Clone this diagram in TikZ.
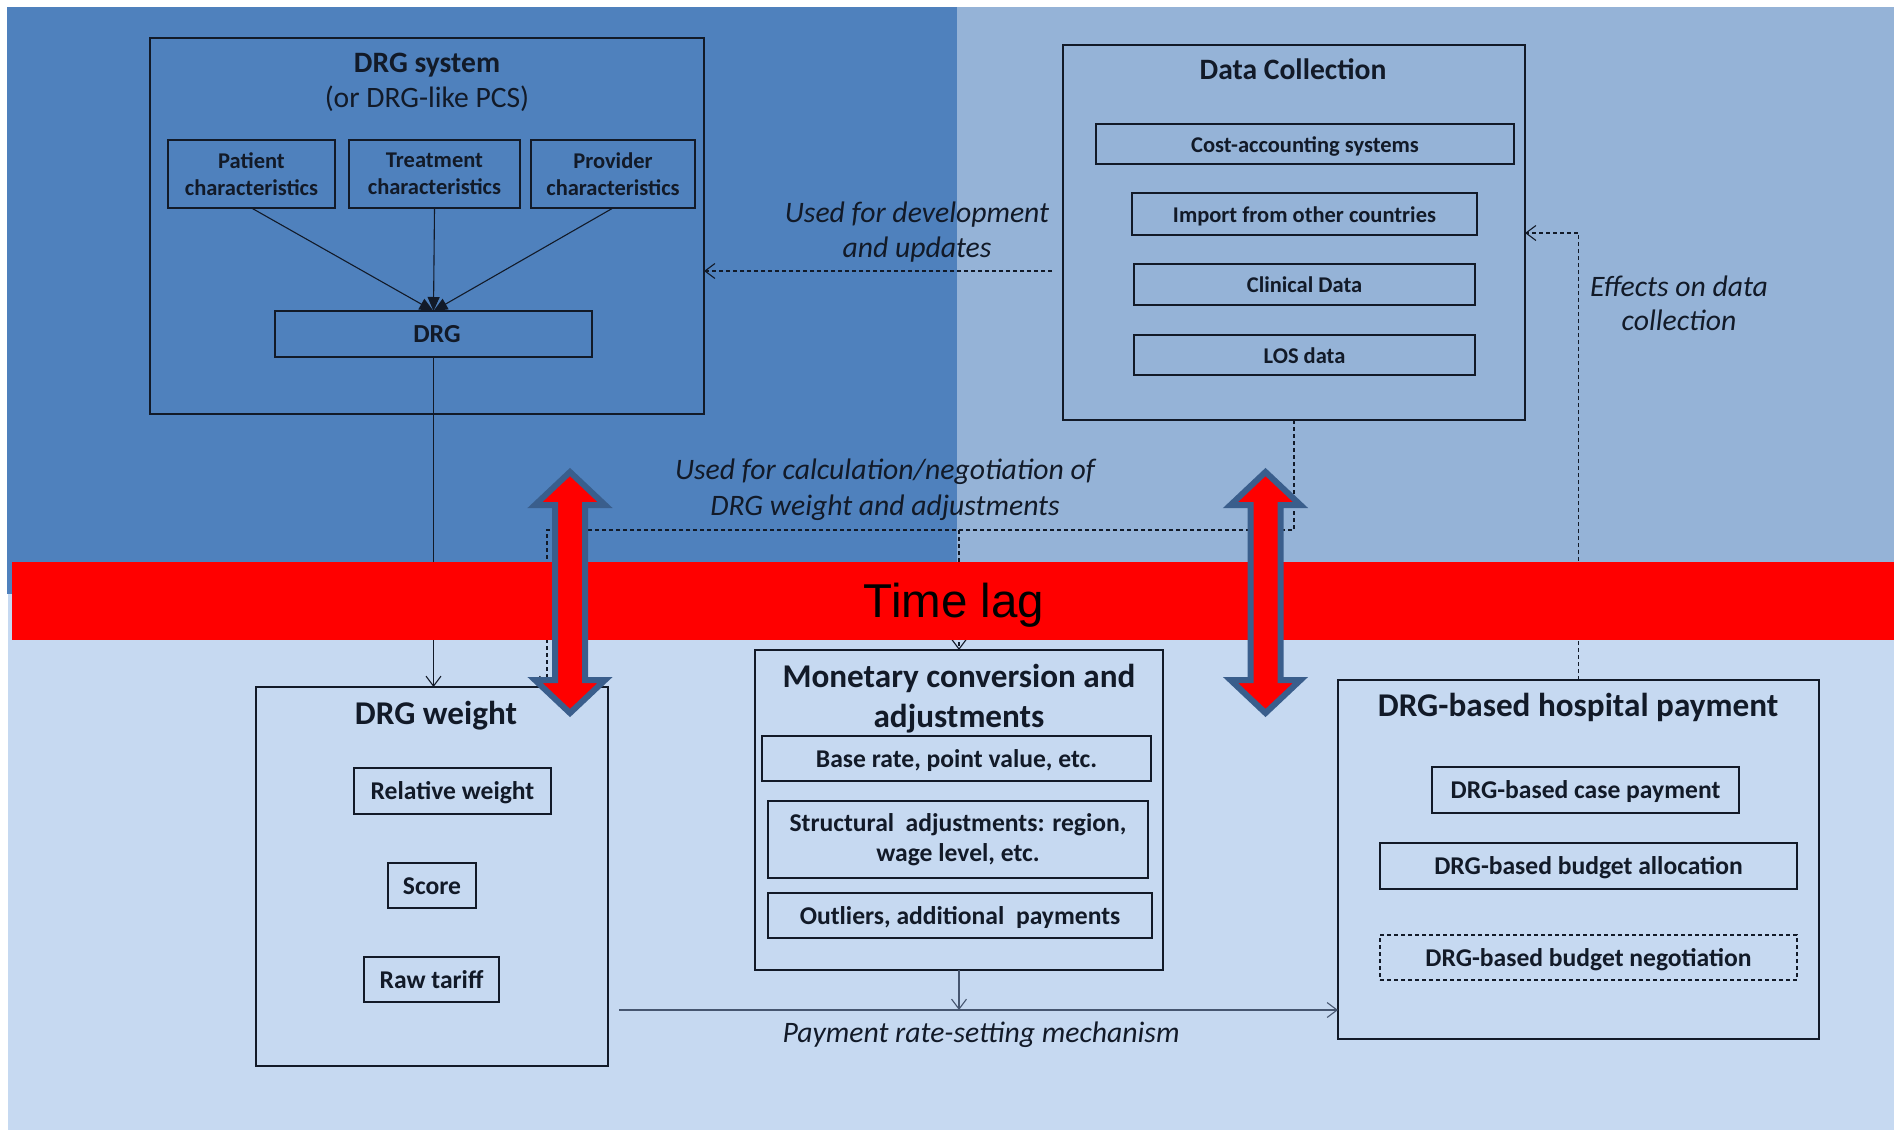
\documentclass[tikz,border=0pt]{standalone}
\usepackage{fontspec}
\setmainfont{Carlito}
\newfontfamily\lagfont{Liberation Sans}
\usetikzlibrary{arrows.meta}

\definecolor{panelDark}{RGB}{79,129,189}
\definecolor{panelMid}{RGB}{149,179,215}
\definecolor{panelLight}{RGB}{198,217,241}
\definecolor{lagRed}{RGB}{255,0,0}
\definecolor{arrowRim}{RGB}{58,94,140}
\definecolor{ink}{RGB}{18,26,40}
\definecolor{rateLine}{RGB}{70,86,112}

\begin{document}
\begin{tikzpicture}[x=1pt,y=-1pt,
  panelbox/.style={draw=ink,line width=1.4pt,inner sep=0pt,outer sep=0pt,rectangle},
  subbox/.style={panelbox,text=ink,font=\fontsize{22.5}{27}\selectfont\bfseries,align=center},
  subboxL/.style={panelbox,text=ink,font=\fontsize{25.6}{30}\selectfont\bfseries,align=center},
  oneline/.style={text height=18pt,text depth=2pt},
  onelineL/.style={text height=20pt,text depth=2.7pt},
  boxtitle/.style={anchor=base,inner sep=0pt,text=ink,font=\fontsize{29.6}{35}\selectfont\bfseries},
  boxtitleL/.style={anchor=base,inner sep=0pt,text=ink,font=\fontsize{33.2}{40}\selectfont\bfseries},
  flowlabel/.style={anchor=base,inner sep=0pt,text=ink,font=\fontsize{29.7}{35}\selectfont\itshape},
  conn/.style={draw=ink,line width=1.1pt},
  dconn/.style={conn,dash pattern=on 4pt off 3pt},
  openhead/.style={-{Straight Barb[length=10pt,width=15pt,line width=1.1pt]}},
  fillhead/.style={-{Triangle[length=14pt,width=12pt]}},
  dblarrow/.style={fill=lagRed,draw=arrowRim,line width=6pt,line join=miter,miter limit=10}
]
\useasboundingbox (0,0) rectangle (1894,1130);

% background panels
\fill[panelLight] (8,590) rectangle (1894,1130);
\fill[panelDark] (7,7) rectangle (957,594);
\fill[panelMid] (957,7) rectangle (1894,562);

% ---- DRG system ----
\node[panelbox,minimum width=554pt,minimum height=376pt] (drgsys) at (427,226) {};
\node[boxtitle] (drgsysT) at (427,72) {DRG system};
\node[anchor=base,inner sep=0pt,text=ink,font=\fontsize{29.6}{35}\selectfont] (drgsysS) at (427,107) {(or DRG-like PCS)};
\node[subbox,minimum width=167pt,minimum height=68pt] (patient) at (251.5,174) {Patient\\characteristics};
\node[subbox,minimum width=171pt,minimum height=68pt] (treat) at (434.5,174) {Treatment\\characteristics};
\node[subbox,minimum width=164pt,minimum height=68pt] (provider) at (613,174) {Provider\\characteristics};
\node[panelbox,text height=20.2pt,text depth=2.8pt,minimum width=317pt,minimum height=46pt,text=ink,font=\fontsize{26}{30}\selectfont\bfseries] (drg) at (433.5,334) {\hspace*{7pt}DRG};

\draw[conn,fillhead] (patient.south) -- (drg.north);
\draw[conn,fillhead] (treat.south) -- (drg.north);
\draw[conn,fillhead] (provider.south) -- (drg.north);

% ---- Data collection ----
\node[panelbox,minimum width=462pt,minimum height=375pt] (dc) at (1294,232.5) {};
\node[boxtitle] (dcT) at (1293,79) {Data Collection};
\node[subbox,oneline,minimum width=418pt,minimum height=40pt] (cost) at (1305,144) {Cost-accounting systems};
\node[subbox,oneline,minimum width=345pt,minimum height=42pt] (import) at (1304.5,214) {Import from other countries};
\node[subbox,oneline,minimum width=341pt,minimum height=41pt] (clin) at (1304.5,284.5) {Clinical Data};
\node[subbox,oneline,minimum width=341pt,minimum height=40pt] (los) at (1304.5,355) {LOS data};

% ---- DRG weight ----
\node[panelbox,minimum width=352pt,minimum height=379pt] (drgw) at (432,876.5) {};
\node[boxtitleL] (drgwT) at (436,724) {DRG weight};
\node[subboxL,onelineL,minimum width=197pt,minimum height=46pt] (relw) at (452.5,791) {Relative weight};
\node[subboxL,onelineL,minimum width=88pt,minimum height=45pt] (score) at (432,885.5) {Score};
\node[subboxL,onelineL,minimum width=135pt,minimum height=45pt] (raw) at (431.5,979.5) {Raw tariff};

% ---- Monetary conversion ----
\node[panelbox,minimum width=408pt,minimum height=320pt] (mon) at (959,810) {};
\node[boxtitleL] (monT1) at (959,687) {Monetary conversion and};
\node[boxtitleL] (monT2) at (959,727) {adjustments};
\node[subboxL,onelineL,minimum width=389pt,minimum height=45pt] (base) at (956.5,758.5) {Base rate, point value, etc.};
\node[subboxL,minimum width=380pt,minimum height=77pt] (struct) at (958,839.5) {Structural\ \ adjustments: region,\\wage level, etc.};
\node[subboxL,onelineL,minimum width=384pt,minimum height=45pt] (outl) at (960,915.5) {Outliers, additional\ \ payments};

% ---- DRG-based hospital payment ----
\node[panelbox,minimum width=481pt,minimum height=359pt] (hosp) at (1578.5,859.5) {};
\node[boxtitleL] (hospT) at (1578,716) {DRG-based hospital payment};
\node[subboxL,onelineL,minimum width=307pt,minimum height=46pt] (case) at (1585.5,790) {DRG-based case payment};
\node[subboxL,onelineL,minimum width=417pt,minimum height=46pt] (alloc) at (1588.5,866) {DRG-based budget allocation};
\node[subboxL,onelineL,dash pattern=on 4pt off 3pt,minimum width=417pt,minimum height=45pt] (nego) at (1588.5,957.5) {DRG-based budget negotiation};

% ---- connectors ----
\draw[conn,openhead] (drg.south) -- (drg.south |- drgw.north);

\coordinate (devstart) at (1052,271);
\draw[dconn,openhead] (devstart) -- (devstart -| drgsys.east);

\coordinate (calcrow) at (547,530);
\draw[dconn,openhead] (dc.south) |- (calcrow) -- (calcrow |- drgw.north);
\draw[dconn,openhead] (mon.north |- calcrow) -- (mon.north);

\coordinate (effrow) at (1579,233);
\draw[dconn,openhead] (hosp.north) -- (hosp.north |- effrow) -- (effrow -| dc.east);

\coordinate (paystart) at (619,1010);
\draw[conn,draw=rateLine,line width=1.5pt,openhead] (paystart) -- (paystart -| hosp.west);
\draw[conn,draw=rateLine,line width=1.3pt,openhead] (mon.south) -- (mon.south |- paystart);

% ---- labels on the flows ----
\node[flowlabel] (devL1) at (917,222) {Used for development};
\node[flowlabel] (devL2) at (917,257) {and updates};
\node[flowlabel] (calcL1) at (885,479) {Used for calculation/negotiation of};
\node[flowlabel] (calcL2) at (885,515) {DRG weight and adjustments};
\node[flowlabel] (effL1) at (1679,296) {Effects on data};
\node[flowlabel] (effL2) at (1679,330) {collection};
\node[flowlabel] (payL) at (981,1042) {Payment rate-setting mechanism};

% ---- time lag band ----
\fill[lagRed] (12,562) rectangle (1894,640);
\node[anchor=base,inner sep=0pt,font=\lagfont\fontsize{47.5}{56}\selectfont] (lag) at (954,617) {Time lag};

% double-headed arrows across the band
\foreach \c in {570,1265.5}{
  \draw[dblarrow] (\c,472) -- (\c+35,505) -- (\c+15,505) -- (\c+15,680) -- (\c+35,680)
    -- (\c,713) -- (\c-35,680) -- (\c-15,680) -- (\c-15,505) -- (\c-35,505) -- cycle;
}
\end{tikzpicture}
\end{document}
